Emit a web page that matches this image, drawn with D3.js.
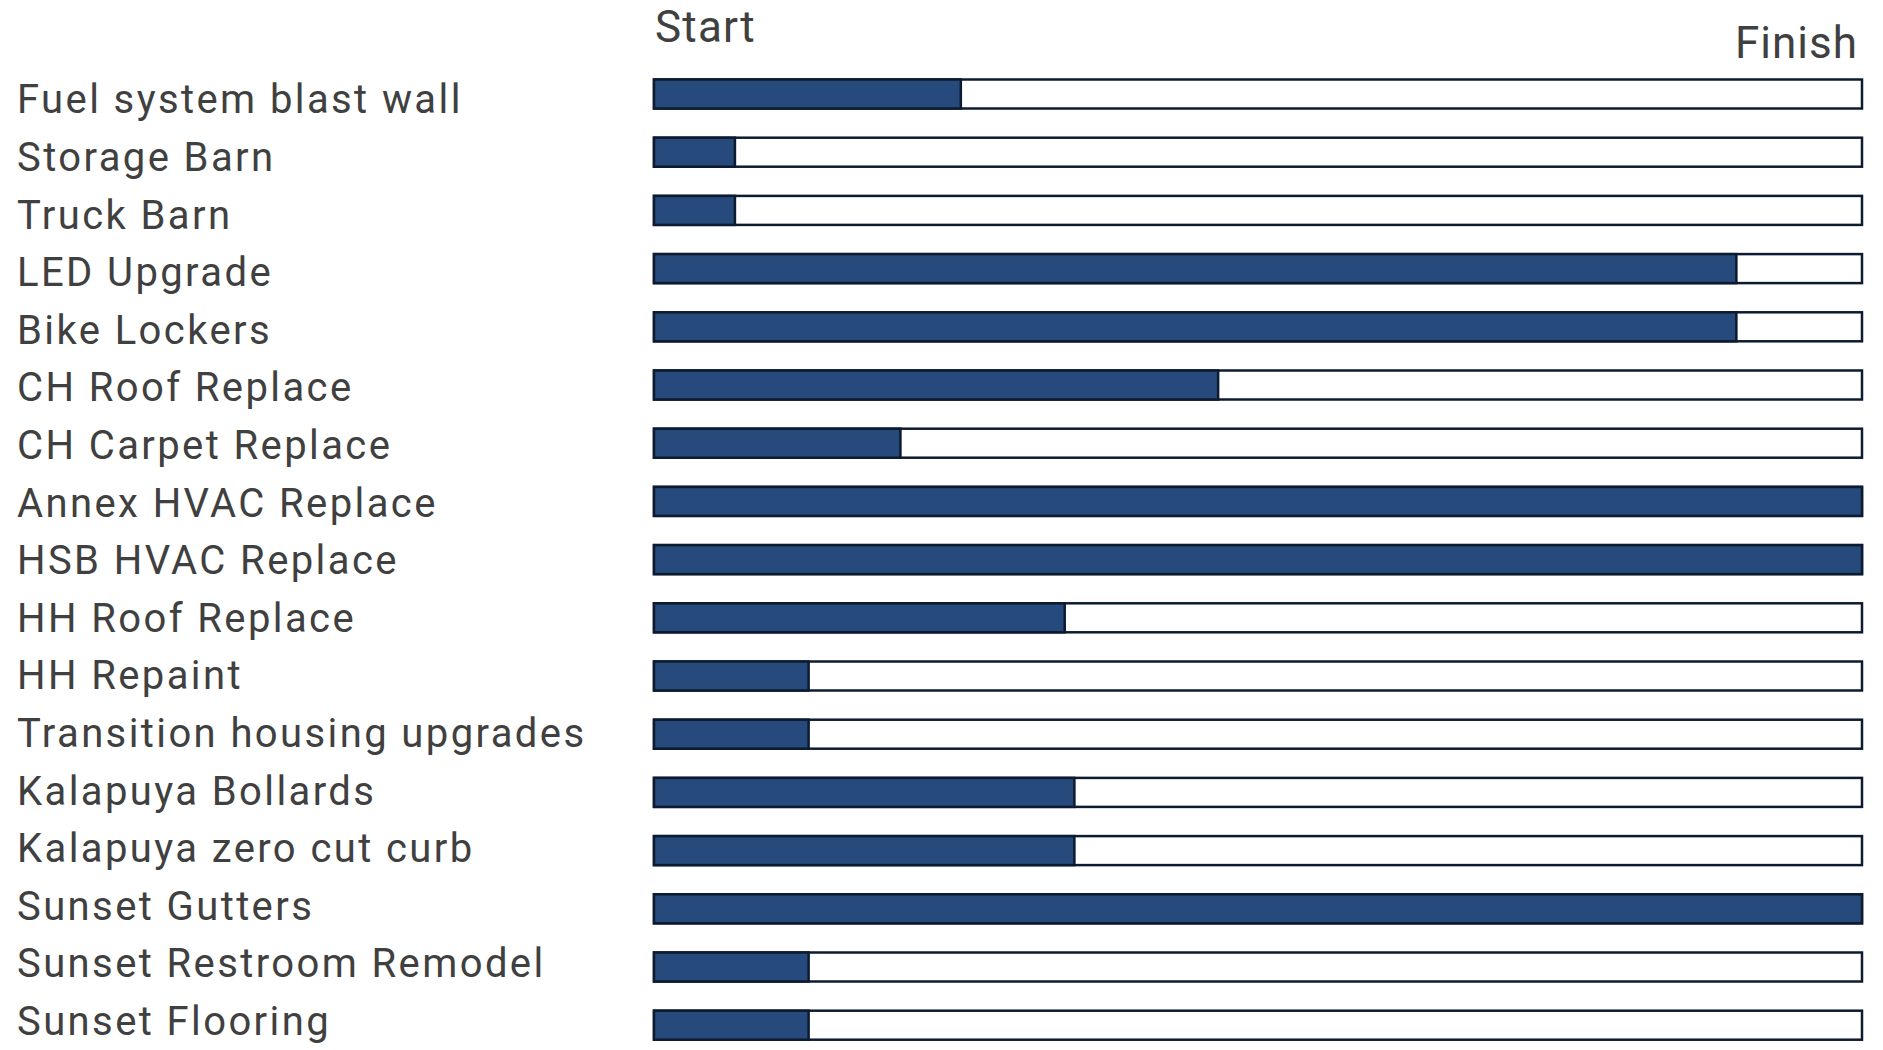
<!DOCTYPE html>
<html>
<head>
<meta charset="utf-8">
<script src="https://cdn.jsdelivr.net/npm/d3@7"></script>
<style>
  html, body { margin: 0; padding: 0; background: #ffffff; }
  svg { display: block; }
  text { font-family: Roboto, "Noto Sans", "Liberation Sans", sans-serif; fill: #404040; }
</style>
</head>
<body>
<svg id="chart" width="1883" height="1050"></svg>
<script>
// ---- data ----
const categories = [
  "Fuel system blast wall",
  "Storage Barn",
  "Truck Barn",
  "LED Upgrade",
  "Bike Lockers",
  "CH Roof Replace",
  "CH Carpet Replace",
  "Annex HVAC Replace",
  "HSB HVAC Replace",
  "HH Roof Replace",
  "HH Repaint",
  "Transition housing upgrades",
  "Kalapuya Bollards",
  "Kalapuya zero cut curb",
  "Sunset Gutters",
  "Sunset Restroom Remodel",
  "Sunset Flooring"
];
// percent complete (Start = 0, Finish = 100)
const progress = [25.4, 6.7, 6.7, 89.6, 89.6, 46.7, 20.4, 100, 100, 34, 12.8, 12.8, 34.8, 34.8, 100, 12.8, 12.8];
const axisLabels = ["Start", "Finish"];
const axisDomain = [0, 100];

// ---- layout ----
const svg = d3.select("#chart");

const x = d3.scaleLinear().domain(axisDomain).range([654, 1862]);
const yBar = d3.scalePoint().domain(categories).range([94, 1025.2]);
const yLabel = d3.scalePoint().domain(categories).range([113.3, 1034.9]);
const barH = 29;

const fillColor = "#264a7c";
const strokeColor = "#0d1b31";

// labels
svg.append("g").selectAll("text")
  .data(categories)
  .join("text")
  .attr("x", 17)
  .attr("y", d => yLabel(d))
  .attr("font-size", 40)
  .attr("letter-spacing", 2.4)
  .text(d => d);

// header labels
svg.append("text")
  .attr("x", x(axisDomain[0]) + 1)
  .attr("y", 42)
  .attr("font-size", 44)
  .attr("letter-spacing", 1.2)
  .text(axisLabels[0]);
svg.append("text")
  .attr("x", x(axisDomain[1]) - 4)
  .attr("y", 58)
  .attr("text-anchor", "end")
  .attr("font-size", 44)
  .attr("letter-spacing", 1)
  .text(axisLabels[1]);

const rows = categories.map((c, i) => ({ name: c, value: progress[i] }));

// track (full bar outline)
svg.append("g").selectAll("rect")
  .data(rows)
  .join("rect")
  .attr("x", x(axisDomain[0]))
  .attr("y", d => yBar(d.name) - barH / 2)
  .attr("width", x(axisDomain[1]) - x(axisDomain[0]))
  .attr("height", barH)
  .attr("fill", "#ffffff")
  .attr("stroke", strokeColor)
  .attr("stroke-width", 2.5);

// progress fill
svg.append("g").selectAll("rect")
  .data(rows)
  .join("rect")
  .attr("x", x(axisDomain[0]))
  .attr("y", d => yBar(d.name) - barH / 2)
  .attr("width", d => x(d.value) - x(axisDomain[0]))
  .attr("height", barH)
  .attr("fill", fillColor)
  .attr("stroke", strokeColor)
  .attr("stroke-width", 2.5);
</script>
</body>
</html>
